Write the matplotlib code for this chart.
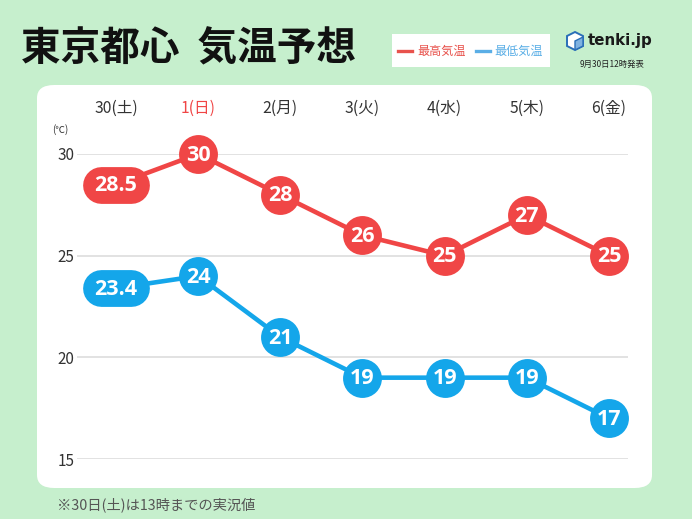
import matplotlib.pyplot as plt
from matplotlib.patches import FancyBboxPatch, Rectangle, Polygon

plt.rcParams['font.family'] = ['Noto Sans CJK JP', 'DejaVu Sans']

# data
days = ['30(土)', '1(日)', '2(月)', '3(火)', '4(水)', '5(木)', '6(金)']
high = [28.5, 30, 28, 26, 25, 27, 25]
low = [23.4, 24, 21, 19, 19, 19, 17]
high_labels = ['28.5', '30', '28', '26', '25', '27', '25']
low_labels = ['23.4', '24', '21', '19', '19', '19', '17']
yticks = [15, 20, 25, 30]

RED = '#f04646'
BLUE = '#14a6ea'
BG = '#c6efcd'
W, H = 692, 519


def px(x, y):
    return x / W, 1 - y / H


fig = plt.figure(figsize=(6.92, 5.19), dpi=100, facecolor=BG)

# white panel
x0, y0 = px(37, 488)
x1, y1 = px(652, 85)
fig.add_artist(FancyBboxPatch((x0, y0), x1 - x0, y1 - y0,
                              boxstyle='round,pad=0,rounding_size=0.025',
                              transform=fig.transFigure, facecolor='white',
                              edgecolor='none', zorder=0))

# title
fig.text(*px(21, 49), '東京都心  気温予想', fontsize=28.5, fontweight='bold',
         color='#111111', va='center', ha='left')

# legend box
lx0, ly0 = px(392, 67)
lx1, ly1 = px(550, 34)
fig.add_artist(Rectangle((lx0, ly0), lx1 - lx0, ly1 - ly0, transform=fig.transFigure,
                         facecolor='white', edgecolor='none'))
fig.add_artist(plt.Line2D([398 / W, 412 / W], [1 - 51 / H] * 2, color='#e8524c', lw=2.4,
                          transform=fig.transFigure))
fig.text(*px(417, 51), '最高気温', fontsize=8.7, color='#e8524c', va='center', ha='left')
fig.add_artist(plt.Line2D([476 / W, 490 / W], [1 - 51 / H] * 2, color='#5aaee6', lw=2.4,
                          transform=fig.transFigure))
fig.text(*px(494, 51), '最低気温', fontsize=8.7, color='#5aaee6', va='center', ha='left')

# logo (small cube icon + name)
cube = [(575, 32), (583, 36), (583, 46), (575, 50), (567, 46), (567, 36)]
fig.add_artist(Polygon([px(a, b) for a, b in cube], closed=True, transform=fig.transFigure,
                       facecolor='white', edgecolor='#2a6fb8', lw=1.4))
fig.add_artist(Polygon([px(a, b) for a, b in [(575, 41), (583, 37), (583, 46), (575, 50)]],
                       closed=True, transform=fig.transFigure,
                       facecolor='#7fb2e0', edgecolor='#2a6fb8', lw=1.0))
fig.text(*px(588, 41), 'tenki.jp', fontsize=10.8, fontweight='bold', color='#1a1a1a',
         va='center', ha='left', family='DejaVu Sans')
fig.text(*px(612, 64), '9月30日12時発表', fontsize=6, color='#222222',
         va='center', ha='center')

# footnote
fig.text(*px(57, 505), '※30日(土)は13時までの実況値', fontsize=10.3, color='#555555',
         va='center', ha='left')

# chart axes
ax_l, ax_b = px(77, 459)
ax_r, ax_t = px(628, 154)
ax = fig.add_axes([ax_l, ax_b, ax_r - ax_l, ax_t - ax_b])
ax.set_facecolor('none')
x = list(range(len(days)))
ax.set_xlim(-0.474, 6.231)
ax.set_ylim(15, 30)
for s in ax.spines.values():
    s.set_visible(False)
ax.set_yticks(yticks)
ax.grid(axis='y', color='#dddddd', lw=1.2)
ax.tick_params(axis='y', length=0, pad=2, labelsize=11, labelcolor='#333333')
ax.xaxis.tick_top()
ax.set_xticks(x)
ax.set_xticklabels(days)
ax.tick_params(axis='x', length=0, pad=27, labelsize=11.3, labelcolor='#333333')
ax.get_xticklabels()[1].set_color(RED)
ax.text(-0.68, 31.2, '(℃)', fontsize=7, color='#333333', ha='center', va='center')

ax.plot(x, high, color=RED, lw=3.3, zorder=2, clip_on=False)
ax.plot(x, low, color=BLUE, lw=3.3, zorder=2, clip_on=False)

# 39 px marker = 28 pt; pills as thick round-capped segments
for ys, labs, col in [(high, high_labels, RED), (low, low_labels, BLUE)]:
    for xi, yi, lab in zip(x, ys, labs):
        if '.' in lab:
            ax.plot([xi - 0.18, xi + 0.18], [yi, yi], color=col, lw=26.5,
                    solid_capstyle='round', zorder=3, clip_on=False)
        else:
            ax.plot(xi, yi, 'o', ms=28, color=col, mec='none', zorder=3, clip_on=False)
        ax.text(xi, yi - 0.05, lab, fontsize=15.5, fontweight='bold', color='white',
                ha='center', va='center', zorder=4, clip_on=False, family='Open Sans')

fig.savefig('out.png', dpi=100, facecolor=BG)
